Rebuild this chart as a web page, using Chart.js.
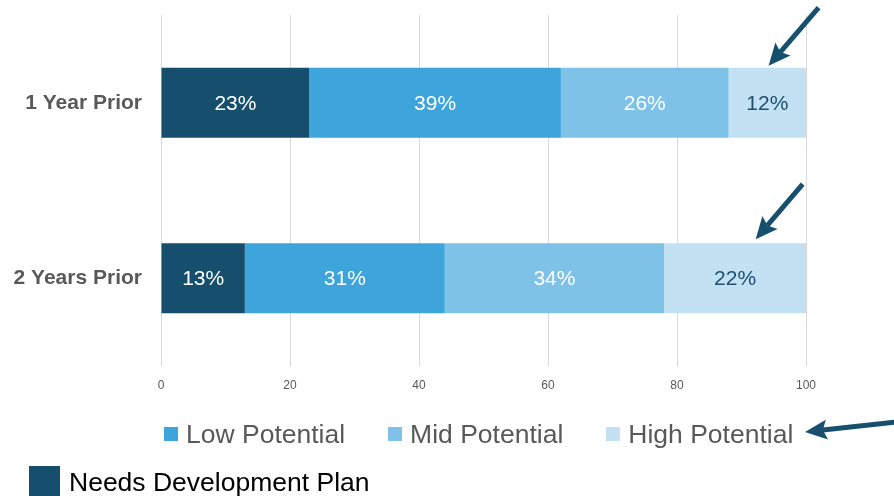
<!DOCTYPE html>
<html>
<head>
<meta charset="utf-8">
<script src="https://cdn.jsdelivr.net/npm/chart.js@4.4.1/dist/chart.umd.min.js"></script>
<style>
    html, body { margin: 0; padding: 0; background: #ffffff; }
    #wrap { position: relative; width: 894px; height: 496px; overflow: hidden; }
    #potentialChart { position: absolute; left: 0; top: 0; }
    .legend-row { position: absolute; display: flex; align-items: center; font-family: "Liberation Sans", Arial, sans-serif; font-size: 26.5px; line-height: 30px; white-space: nowrap; }
    .legend-item { display: flex; align-items: center; }
    .legend-box { display: inline-block; }
    #legendTop { left: 164px; top: 419px; color: #595959; }
    #legendTop .legend-item { margin-right: 43px; }
    #legendTop .legend-box { width: 14px; height: 14px; margin-right: 8px; }
    #legendBottom { left: 29px; top: 466px; color: #000000; }
    #legendBottom .legend-box { width: 31px; height: 31px; margin-right: 9px; }
</style>
</head>
<body>
<div id="wrap">
    <canvas id="potentialChart" width="894" height="496"></canvas>
    <div id="legendTop" class="legend-row"></div>
    <div id="legendBottom" class="legend-row"></div>
</div>
<script>
const categories = ["1 Year Prior", "2 Years Prior"];
const seriesNames = ["Needs Development Plan", "Low Potential", "Mid Potential", "High Potential"];
const needsDevelopment = [23, 13];
const lowPotential = [39, 31];
const midPotential = [26, 34];
const highPotential = [12, 22];
const xTicks = [0, 20, 40, 60, 80, 100];

const seriesColors = ["#164f6d", "#3ea5dc", "#7fc2e8", "#c2e2f4"];
const labelColors = ["#ffffff", "#ffffff", "#ffffff", "#1f4e6e"];
const arrowColor = "#16506e";

// percentage text in the middle of each segment
const segmentLabels = {
    id: "segmentLabels",
    afterDatasetsDraw(chart) {
        const ctx = chart.ctx;
        ctx.save();
        ctx.font = "21px 'Liberation Sans', Arial, sans-serif";
        ctx.textAlign = "center";
        ctx.textBaseline = "middle";
        chart.data.datasets.forEach((ds, i) => {
            chart.getDatasetMeta(i).data.forEach((bar, j) => {
                const mid = bar.base + (bar.x - bar.base) / 2;
                ctx.fillStyle = labelColors[i];
                ctx.fillText(ds.data[j] + "%", mid, bar.y + 1);
            });
        });
        ctx.restore();
    }
};

function drawArrow(ctx, x1, y1, x2, y2) {
    const ang = Math.atan2(y2 - y1, x2 - x1);
    const headLen = 22, headW = 10;
    const bx = x2 - headLen * Math.cos(ang), by = y2 - headLen * Math.sin(ang);
    ctx.strokeStyle = arrowColor;
    ctx.fillStyle = arrowColor;
    ctx.lineWidth = 5;
    ctx.beginPath();
    ctx.moveTo(x1, y1);
    ctx.lineTo(bx + 4 * Math.cos(ang), by + 4 * Math.sin(ang));
    ctx.stroke();
    ctx.beginPath();
    ctx.moveTo(x2, y2);
    ctx.lineTo(bx + headW * Math.sin(ang), by - headW * Math.cos(ang));
    ctx.lineTo(bx + 4 * Math.cos(ang), by + 4 * Math.sin(ang));
    ctx.lineTo(bx - headW * Math.sin(ang), by + headW * Math.cos(ang));
    ctx.closePath();
    ctx.fill();
}

// arrows pointing at the High Potential segments and legend entry
const highArrows = {
    id: "highArrows",
    afterDraw(chart) {
        const ctx = chart.ctx;
        const area = chart.chartArea;
        const xs = chart.scales.x;
        const bars = chart.getDatasetMeta(3).data;
        ctx.save();
        const t1 = { x: xs.getPixelForValue(94.2), y: bars[0].y - bars[0].height / 2 - 2 };
        drawArrow(ctx, t1.x + 50, t1.y - 58, t1.x, t1.y);
        const t2 = { x: xs.getPixelForValue(92.2), y: bars[1].y - bars[1].height / 2 - 4 };
        drawArrow(ctx, t2.x + 47, t2.y - 55, t2.x, t2.y);
        drawArrow(ctx, area.right + 90, 422, area.right - 1, 432);
        ctx.restore();
    }
};

const chart = new Chart(document.getElementById("potentialChart"), {
    type: "bar",
    data: {
        labels: categories,
        datasets: [needsDevelopment, lowPotential, midPotential, highPotential].map((values, i) => ({
            label: seriesNames[i],
            data: values,
            backgroundColor: seriesColors[i],
            borderWidth: 0,
            categoryPercentage: 0.4,
            barPercentage: 1
        }))
    },
    options: {
        indexAxis: "y",
        responsive: false,
        animation: false,
        layout: { padding: { top: 15, right: 88, bottom: 100, left: 0 } },
        scales: {
            x: {
                stacked: true,
                min: 0,
                max: 100,
                afterBuildTicks: scale => { scale.ticks = xTicks.map(v => ({ value: v })); },
                afterFit: scale => { scale.height = 30; scale.paddingLeft = 0; scale.paddingRight = 0; },
                grid: { color: "#d9d9d9", lineWidth: 1, drawTicks: false },
                border: { display: false },
                ticks: { padding: 12, color: "#595959", font: { size: 12, family: "'Liberation Sans', Arial, sans-serif" } }
            },
            y: {
                stacked: true,
                afterFit: scale => { scale.width = 161; scale.paddingTop = 0; scale.paddingBottom = 0; },
                grid: { display: false, drawTicks: false },
                border: { display: false },
                ticks: { padding: 19, color: "#595959", font: { size: 21, weight: "bold", family: "'Liberation Sans', Arial, sans-serif" } }
            }
        },
        plugins: {
            legend: { display: false },
            tooltip: { enabled: false }
        }
    },
    plugins: [segmentLabels, highArrows]
});

// legend built from the datasets: potentials on one row, development plan below
function legendItem(ds) {
    const item = document.createElement("span");
    item.className = "legend-item";
    const box = document.createElement("span");
    box.className = "legend-box";
    box.style.background = ds.backgroundColor;
    const text = document.createElement("span");
    text.textContent = ds.label;
    item.appendChild(box);
    item.appendChild(text);
    return item;
}
const legendTop = document.getElementById("legendTop");
chart.data.datasets.slice(1).forEach(ds => legendTop.appendChild(legendItem(ds)));
document.getElementById("legendBottom").appendChild(legendItem(chart.data.datasets[0]));
</script>
</body>
</html>
